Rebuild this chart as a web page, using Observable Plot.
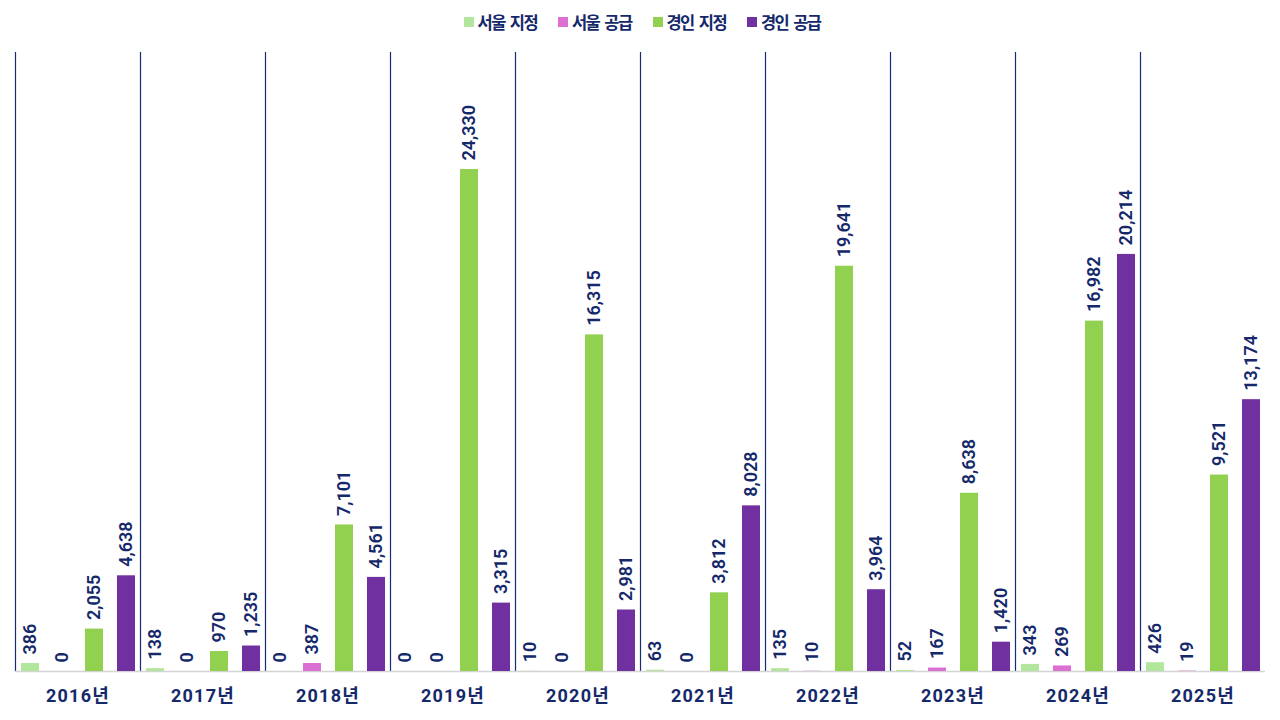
<!DOCTYPE html>
<html>
<head>
<meta charset="utf-8">
<script src="https://cdn.jsdelivr.net/npm/d3@7"></script>
<script src="https://cdn.jsdelivr.net/npm/@observablehq/plot@0.6"></script>
<style>
  html, body { margin: 0; padding: 0; background: #fff; }
  body { width: 1280px; height: 720px; overflow: hidden; font-family: Roboto, "Noto Sans CJK KR", sans-serif; }
  #legend { height: 44px; display: flex; justify-content: center; align-items: center; gap: 21px; color: #14286a; font-weight: 700; font-size: 16.5px; letter-spacing: -1.6px; word-spacing: 3px; padding-left: 4px; box-sizing: border-box; font-family: "Noto Sans CJK KR", sans-serif; }
  #legend .item { display: flex; align-items: center; gap: 4px; }
  #legend .sw { width: 10px; height: 10px; display: inline-block; }
</style>
</head>
<body>
<div id="legend"></div>
<div id="chart"></div>
<script>
const years = ["2016년","2017년","2018년","2019년","2020년","2021년","2022년","2023년","2024년","2025년"];
const seriesNames = ["서울 지정","서울 공급","경인 지정","경인 공급"];
const seriesColors = ["#b3e69d","#dc6fd2","#92d050","#7030a0"];
const seoulDesignated = [386,138,0,0,10,63,135,52,343,426];
const seoulSupply = [0,0,387,0,0,0,10,167,269,19];
const gyeonginDesignated = [2055,970,7101,24330,16315,3812,19641,8638,16982,9521];
const gyeonginSupply = [4638,1235,4561,3315,2981,8028,3964,1420,20214,13174];

const seriesValues = [seoulDesignated, seoulSupply, gyeonginDesignated, gyeonginSupply];
const rows = [];
years.forEach((y, i) => {
  seriesNames.forEach((s, j) => rows.push({year: y, series: s, value: seriesValues[j][i]}));
});

const navy = "#14286a";

const legend = document.getElementById("legend");
seriesNames.forEach((s, j) => {
  const it = document.createElement("div");
  it.className = "item";
  const sw = document.createElement("span");
  sw.className = "sw";
  sw.style.background = seriesColors[j];
  const t = document.createElement("span");
  t.textContent = s;
  it.appendChild(sw); it.appendChild(t);
  legend.appendChild(it);
});

const fmt = d3.format(",");

const chart = Plot.plot({
  width: 1280,
  height: 676,
  marginTop: 8,
  marginBottom: 49,
  marginLeft: 14,
  marginRight: 15,
  style: {fontFamily: "Roboto, 'Noto Sans CJK KR', sans-serif", background: "#fff"},
  fx: {domain: years, padding: 0, label: null},
  x: {domain: seriesNames, paddingInner: 0.45, paddingOuter: 0.15, axis: null},
  y: {domain: [0, 30000], axis: null},
  color: {domain: seriesNames, range: seriesColors},
  marks: [
    Plot.frame({anchor: "left", stroke: "#142c7a", strokeWidth: 1.2}),
    Plot.ruleY([0], {stroke: "#d4d4d4", strokeWidth: 1.5}),
    Plot.barY(rows, {fx: "year", x: "series", y: "value", fill: "series"}),
    Plot.text(rows, {fx: "year", x: "series", y: "value", text: d => fmt(d.value), rotate: -90, textAnchor: "start", dy: -9, fill: navy, fontSize: 18, fontWeight: 600}),
    Plot.axisFx({anchor: "bottom", tickSize: 0, tickPadding: 18, fontSize: 18, fontWeight: 700, fill: navy, label: null})
  ]
});
chart.querySelectorAll("g[aria-label='fx-axis tick label'] text").forEach(e => e.style.letterSpacing = "1.2px");
document.getElementById("chart").appendChild(chart);
</script>
</body>
</html>
